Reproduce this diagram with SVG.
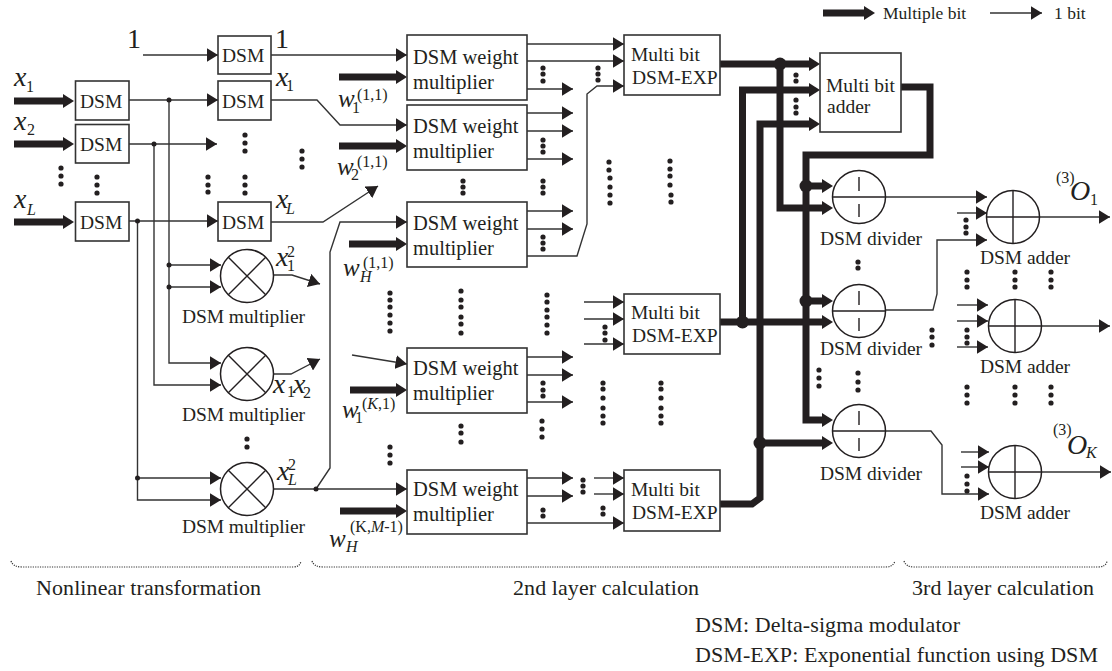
<svg xmlns="http://www.w3.org/2000/svg" width="1112" height="671" viewBox="0 0 1112 671">
<style>
text{font-family:"Liberation Serif","Times New Roman",serif;fill:#231f20;font-size:19.5px}
.i{font-style:italic}
.v{font-style:italic;font-size:28px}
.w{font-style:italic;font-size:25px}
.s{font-size:16px}
.si{font-size:16px;font-style:italic}
.n{font-size:20.500px}
.big{font-size:28px}
.lg{font-size:17.500px}
.cap{font-size:22px}
.b{fill:#fff;stroke:#333;stroke-width:1.6}
.c{fill:#fff;stroke:#231f20;stroke-width:1.5}
.g{fill:none;stroke:#231f20;stroke-width:1.4}
.t{fill:none;stroke:#333;stroke-width:1.4;marker-end:url(#a)}
.T{fill:none;stroke:#231f20;stroke-width:7;stroke-linejoin:miter;marker-end:url(#A)}
.d{fill:none;stroke:#231f20;stroke-width:5.2;stroke-linecap:round}
.j{fill:#231f20}
.br{fill:none;stroke:#333;stroke-width:1.2;stroke-dasharray:1.2 1.2}
</style>
<defs>
<marker id="a" markerUnits="userSpaceOnUse" markerWidth="12" markerHeight="14" refX="11.5" refY="7" orient="auto"><path d="M0 0L11.5 7L0 14z" fill="#231f20"/></marker>
<marker id="A" markerUnits="userSpaceOnUse" markerWidth="12" markerHeight="15" refX="0" refY="7" orient="auto"><path d="M0 0L11 7L0 14z" fill="#231f20"/></marker>
</defs>

<g id="connectors">
<path class="t" d="M143 55H218"/>
<path class="t" d="M129 100H218"/>
<path class="t" d="M129 144H217"/>
<path class="t" d="M129 221H218"/>
<path class="t" d="M169 100V363H221"/>
<path class="t" d="M169 265H221"/>
<path class="t" d="M169 287H221"/>
<path class="t" d="M154 144V385H221"/>
<path class="t" d="M137.500 221V500H221"/>
<path class="t" d="M137.500 478H221"/>
<path class="t" d="M271 55H407"/>
<path class="t" d="M271 100H317L340 125H407"/>
<path class="t" d="M271 222H323L378 186"/>
<path class="t" d="M273 275H292L320 284"/>
<path class="t" d="M273 374H291L320 359"/>
<path class="t" d="M273 489H407"/>
<path class="t" d="M316 489L330 468V252L340 222H407"/>
<path class="t" d="M352 355L407 364"/>
<path class="t" d="M527 44H624"/>
<path class="t" d="M527 61H624"/>
<path class="t" d="M527 89H573"/>
<path class="t" d="M527 113H573"/>
<path class="t" d="M527 131H573"/>
<path class="t" d="M527 159H573"/>
<path class="t" d="M527 211H573"/>
<path class="t" d="M527 229H573"/>
<path class="t" d="M527 256H577L587 224V94L597 86H624"/>
<path class="t" d="M584 302H624"/>
<path class="t" d="M584 319H624"/>
<path class="t" d="M584 344H624"/>
<path class="t" d="M527 357H573"/>
<path class="t" d="M527 375H573"/>
<path class="t" d="M527 402H573"/>
<path class="t" d="M527 478H573"/>
<path class="t" d="M527 496H573"/>
<path class="t" d="M594 478H624"/>
<path class="t" d="M594 494H624"/>
<path class="t" d="M527 523H624"/>
<path class="t" d="M885 197H987"/>
<path class="t" d="M957 213H987"/>
<path class="t" d="M885 310H933L937 294V240H987"/>
<path class="t" d="M1040 217H1110"/>
<path class="t" d="M957 305H988"/>
<path class="t" d="M957 321H988"/>
<path class="t" d="M957 347H988"/>
<path class="t" d="M1042 326H1110"/>
<path class="t" d="M885 431H931L942 445V494H989"/>
<path class="t" d="M961 452H989"/>
<path class="t" d="M961 467H989"/>
<path class="t" d="M1042 472H1111"/>
<path class="T" d="M14 101H63"/>
<path class="T" d="M14 144H63"/>
<path class="T" d="M14 222H63"/>
<path class="T" d="M339 77H396"/>
<path class="T" d="M339 146H396"/>
<path class="T" d="M349 244H396"/>
<path class="T" d="M350 390H396"/>
<path class="T" d="M340 511H396"/>
<path class="T" d="M720 64H809"/>
<path class="T" d="M780 64V208H822"/>
<path class="T" d="M742.500 322V90H809"/>
<path class="T" d="M720 322H822"/>
<path class="T" d="M720 504H752L760 498V124H809"/>
<path class="T" d="M760 443H822"/>
<path class="T" d="M901 87H930V155H806V420H822"/>
<path class="T" d="M806 186H822"/>
<path class="T" d="M806 301H822"/>
<g class="j">
<circle cx="169" cy="100" r="2.500"/><circle cx="154" cy="144" r="2.500"/><circle cx="137.500" cy="221" r="2.500"/>
<circle cx="169" cy="265" r="2.500"/><circle cx="169" cy="287" r="2.500"/><circle cx="137.500" cy="478" r="2.500"/>
<circle cx="316" cy="489" r="2.500"/>
<circle cx="780" cy="64" r="6.500"/><circle cx="742.500" cy="322" r="6.500"/><circle cx="806" cy="186" r="6.500"/><circle cx="806" cy="301" r="6.500"/><circle cx="760" cy="443" r="6.500"/>
</g>
</g>

<g id="legend">
<path class="T" d="M823 13H864"/>
<text class="lg" x="883" y="19">Multiple bit</text>
<path class="t" d="M990 13H1042"/>
<text class="lg" x="1054" y="19">1 bit</text>
</g>

<g id="dsm-1"><rect class="b" x="218" y="36" width="53" height="38"/><text x="222" y="62">DSM</text></g>
<g id="dsm-x1-in"><rect class="b" x="75.500" y="81" width="53.500" height="39"/><text x="80" y="108">DSM</text></g>
<g id="dsm-x2-in"><rect class="b" x="75.500" y="124.500" width="53.500" height="38.500"/><text x="80" y="151">DSM</text></g>
<g id="dsm-xL-in"><rect class="b" x="75.500" y="202" width="53.500" height="39"/><text x="80" y="229">DSM</text></g>
<g id="dsm-x1"><rect class="b" x="218" y="81" width="53" height="39"/><text x="222" y="108">DSM</text></g>
<g id="dsm-xL"><rect class="b" x="218" y="202" width="53" height="39"/><text x="222" y="229">DSM</text></g>

<g id="mul-1"><circle class="c" cx="247" cy="276" r="26.500"/><path class="g" d="M228.300 257.300L265.700 294.700M228.300 294.700L265.700 257.300"/><text x="182" y="323" textLength="123">DSM multiplier</text></g>
<g id="mul-2"><circle class="c" cx="247" cy="374" r="26.500"/><path class="g" d="M228.300 355.300L265.700 392.700M228.300 392.700L265.700 355.300"/><text x="182" y="421" textLength="123">DSM multiplier</text></g>
<g id="mul-3"><circle class="c" cx="247" cy="489" r="26.500"/><path class="g" d="M228.300 470.300L265.700 507.700M228.300 507.700L265.700 470.300"/><text x="182" y="533" textLength="123">DSM multiplier</text></g>

<g id="wm-1"><rect class="b" x="407" y="35" width="120" height="65"/><text class="n" x="413" y="64">DSM weight</text><text class="n" x="413" y="89">multiplier</text></g>
<g id="wm-2"><rect class="b" x="407" y="105" width="120" height="65"/><text class="n" x="413" y="133">DSM weight</text><text class="n" x="413" y="158">multiplier</text></g>
<g id="wm-3"><rect class="b" x="407" y="202" width="120" height="65"/><text class="n" x="413" y="230">DSM weight</text><text class="n" x="413" y="255">multiplier</text></g>
<g id="wm-4"><rect class="b" x="407" y="348" width="120" height="65"/><text class="n" x="413" y="375">DSM weight</text><text class="n" x="413" y="400">multiplier</text></g>
<g id="wm-5"><rect class="b" x="407" y="470" width="120" height="64"/><text class="n" x="413" y="496">DSM weight</text><text class="n" x="413" y="521">multiplier</text></g>

<g id="exp-1"><rect class="b" x="624" y="35" width="96" height="60"/><text x="631" y="61">Multi bit</text><text x="632" y="84">DSM-EXP</text></g>
<g id="exp-2"><rect class="b" x="624" y="294" width="96" height="60"/><text x="631" y="319">Multi bit</text><text x="632" y="342">DSM-EXP</text></g>
<g id="exp-3"><rect class="b" x="624" y="470" width="96" height="61"/><text x="631" y="496">Multi bit</text><text x="632" y="519">DSM-EXP</text></g>

<g id="adder-multibit"><rect class="b" x="820" y="53" width="81" height="79"/><text x="826" y="92">Multi bit</text><text x="827" y="113">adder</text></g>

<g id="div-1"><circle class="c" cx="859" cy="197" r="26.500"/><path class="g" d="M832.500 197H885.500M859 177V191M859 204V217"/><text x="820" y="245" textLength="102">DSM divider</text></g>
<g id="div-2"><circle class="c" cx="859" cy="311" r="26.500"/><path class="g" d="M832.500 311H885.500M859 291V305M859 318V331"/><text x="820" y="355" textLength="102">DSM divider</text></g>
<g id="div-3"><circle class="c" cx="859" cy="431" r="26.500"/><path class="g" d="M832.500 431H885.500M859 411V425M859 438V451"/><text x="820" y="480" textLength="102">DSM divider</text></g>

<g id="add-1"><circle class="c" cx="1013" cy="217" r="26.500"/><path class="g" d="M986.500 217H1039.500M1013 190.500V243.500"/><text x="980" y="264" textLength="90">DSM adder</text></g>
<g id="add-2"><circle class="c" cx="1015" cy="326" r="26.500"/><path class="g" d="M988.500 326H1041.500M1015 299.500V352.500"/><text x="980" y="373" textLength="90">DSM adder</text></g>
<g id="add-3"><circle class="c" cx="1015" cy="472" r="26.500"/><path class="g" d="M988.500 472H1041.500M1015 445.500V498.500"/><text x="980" y="519" textLength="90">DSM adder</text></g>

<g id="ellipsis">
<path class="d" d="M61 168h0M61 176h0M61 184h0M97 177h0M97 185h0M97 193h0M208 177h0M208 185h0M208 192h0M245 177h0M245 185h0M245 193h0M245 135h0M245 143h0M245 151h0M302 151h0M302 159h0M302 167h0
M390 293h0M390 300h0M390 307h0M390 315h0M390 323h0M390 331h0
M461 291h0M461 300h0M461 307h0M461 317h0M461 324h0M461 333h0
M547 295h0M547 302h0M547 310h0M547 317h0M547 325h0M547 333h0
M543 68h0M543 74h0M543 81h0M598 68h0M598 74h0M598 80h0M543 140h0M543 146h0M543 152h0M463 181h0M463 187h0M463 193h0M543 181h0M543 187h0M543 193h0M543 237h0M543 243h0M543 249h0
M609 162h0M609 170h0M610 178h0M610 187h0M610 195h0M610 203h0
M670 161h0M670 169h0M670 176h0M670 185h0M671 195h0M671 202h0
M605 327h0M605 333h0M605 340h0
M543 383h0M543 390h0M543 396h0
M603 383h0M603 389h0M603 398h0M603 408h0M603 416h0M603 423h0
M661 383h0M661 389h0M661 398h0M661 408h0M661 416h0M661 423h0
M461 426h0M461 433h0M461 442h0M542 421h0M542 429h0M542 437h0M390 447h0M390 455h0M390 463h0
M583 480h0M583 486h0M583 492h0M543 510h0M543 516h0M603 508h0M603 514h0
M247 439h0M247 447h0
M796 75h0M796 81h0M796 100h0M796 107h0M796 113h0M858 262h0M858 268h0
M932 330h0M932 337h0M932 345h0
M967 272h0M967 280h0M967 287h0M1015 272h0M1015 280h0M1015 287h0M1051 272h0M1051 280h0M1051 287h0
M966 220h0M966 227h0M966 233h0M967 330h0M967 337h0M967 343h0
M967 387h0M967 395h0M967 403h0M1015 387h0M1015 395h0M1015 403h0M1051 387h0M1051 395h0M1051 403h0
M967 476h0M967 484h0M967 491h0
M819 370h0M819 378h0M819 386h0M858 373h0M858 382h0M858 390h0"/>
</g>

<g id="math-labels">
<text class="big" x="127" y="48">1</text>
<text class="big" x="275" y="48">1</text>
<text class="v" x="14" y="86">x</text><text class="s" x="26" y="92">1</text>
<text class="v" x="14" y="130">x</text><text class="s" x="27" y="135">2</text>
<text class="v" x="14" y="208">x</text><text class="si" x="27" y="215">L</text>
<text class="v" x="276" y="86">x</text><text class="s" x="286" y="91">1</text>
<text class="v" x="276" y="208">x</text><text class="si" x="286" y="214">L</text>
<text class="v" x="276" y="266">x</text><text class="s" x="287" y="271">1</text><text class="s" x="287" y="257">2</text>
<text class="v" x="273" y="393">x</text><text class="s" x="287" y="397">1</text><text class="v" x="293" y="393">x</text><text class="s" x="303" y="398">2</text>
<text class="v" x="277" y="480">x</text><text class="s" x="288" y="470">2</text><text class="si" x="288" y="485">L</text>
<text class="w" x="338" y="107">w</text><text class="s" x="352" y="113">1</text><text class="s" x="357" y="100">(1,1)</text>
<text class="w" x="337" y="175">w</text><text class="s" x="351" y="180">2</text><text class="s" x="357" y="167">(1,1)</text>
<text class="w" x="343" y="276">w</text><text class="si" x="360" y="282">H</text><text class="s" x="363" y="268">(1,1)</text>
<text class="w" x="342" y="418">w</text><text class="s" x="355" y="423">1</text><text class="s" x="362" y="409">(<tspan font-style="italic">K</tspan>,1)</text>
<text class="w" x="329" y="547">w</text><text class="si" x="346" y="552">H</text><text class="s" x="350" y="532">(K,<tspan font-style="italic">M</tspan>-1)</text>
<text class="s" x="1056" y="183">(3)</text><text class="i" x="1070" y="200" style="font-size:28px">O</text><text class="s" x="1090" y="205">1</text>
<text class="s" x="1053" y="435">(3)</text><text class="i" x="1067" y="454" style="font-size:28px">O</text><text class="si" x="1086" y="458">K</text>
</g>

<g id="section-braces">
<path class="br" d="M11 561Q13 567 22 567H293Q300 567 301 561"/>
<path class="br" d="M312 561Q314 567 323 567H886Q893 567 895 561"/>
<path class="br" d="M904 561Q906 567 914 567H1098Q1106 567 1107 561"/>
<text class="cap" x="36" y="595" textLength="225">Nonlinear transformation</text>
<text class="cap" x="513" y="595" textLength="186">2nd layer calculation</text>
<text class="cap" x="912" y="595" textLength="182">3rd layer calculation</text>
<text class="cap" x="695" y="632" textLength="265">DSM: Delta-sigma modulator</text>
<text class="cap" x="695" y="662" textLength="403">DSM-EXP: Exponential function using DSM</text>
</g>
</svg>
